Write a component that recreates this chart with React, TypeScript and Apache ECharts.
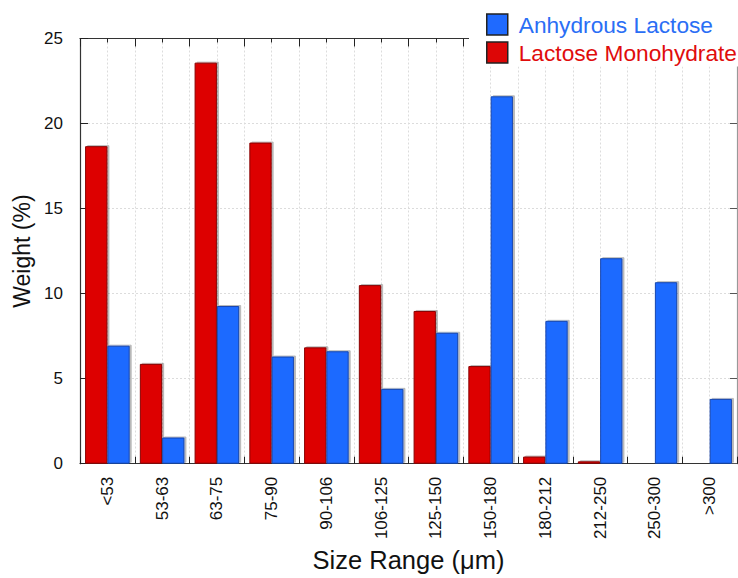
import React, { useEffect, useRef } from "react";
import * as echarts from "echarts";

// Particle size classes (µm) and the weight fraction in each class
const categories = ["<53", "53-63", "63-75", "75-90", "90-106", "106-125", "125-150", "150-180", "180-212", "212-250", "250-300", ">300"];
const monohydrate = [18.67, 5.87, 23.58, 18.88, 6.84, 10.5, 8.98, 5.74, 0.42, 0.14, 0.04, 0];
const anhydrous = [6.94, 1.54, 9.27, 6.3, 6.61, 4.4, 7.7, 21.6, 8.4, 12.08, 10.67, 3.81];

const FONT = "'Liberation Sans', Arial, sans-serif";
const RED = "#dd0606";
const BLUE = "#1f6aff";

export default function App() {
  const ref = useRef<HTMLDivElement>(null);

  useEffect(() => {
    if (!ref.current) return;
    const chart = echarts.init(ref.current, null, { renderer: "svg" });
    const shadow = { shadowColor: "rgba(0,0,0,0.28)", shadowOffsetX: 2, shadowOffsetY: -1, shadowBlur: 0 };
    const dashed = { show: true, lineStyle: { color: "#dcdcdc", type: [2, 2] as any, width: 1 } };

    chart.setOption({
      animation: false,
      backgroundColor: "#fff",
      textStyle: { fontFamily: FONT },
      grid: { left: 80, top: 38.5, right: 1, bottom: 110.5, containLabel: false },
      legend: {
        orient: "vertical",
        left: 481,
        top: 8,
        z: 20,
        itemWidth: 21,
        itemHeight: 21,
        itemGap: 5,
        icon: "rect",
        selectedMode: false,
        itemStyle: { borderColor: "#222", borderWidth: 1.5 },
        textStyle: { fontSize: 22.7, fontFamily: FONT, padding: [0, 0, 0, 6] },
        data: [
          { name: "Anhydrous Lactose", textStyle: { color: "#2a6ef5" } },
          { name: "Lactose Monohydrate", textStyle: { color: "#e00c0c" } },
        ],
      },
      graphic: [
        { type: "rect", z: 10, shape: { x: 469, y: 0, width: 269, height: 66.5 }, style: { fill: "#fff" } },
      ],
      xAxis: [
        {
          type: "category",
          data: categories,
          position: "bottom",
          boundaryGap: true,
          name: "Size Range (\u03bcm)",
          nameLocation: "middle",
          nameGap: 80,
          nameTextStyle: { fontSize: 25.5, color: "#111", fontFamily: FONT },
          axisLine: { show: true, lineStyle: { color: "#333", width: 1.2 } },
          axisTick: { show: true, inside: true, length: 7, lineStyle: { color: "#222" } },
          axisLabel: { rotate: 90, margin: 13, fontSize: 17, color: "#111", fontFamily: FONT },
          splitLine: { show: false },
        },
        {
          type: "value",
          position: "top",
          min: 0,
          max: 12,
          interval: 1,
          axisLine: { show: true, onZero: false, lineStyle: { color: "#333", width: 1.2 } },
          axisTick: { show: true, inside: true, length: 8, lineStyle: { color: "#222" } },
          minorTick: { show: true, splitNumber: 2, length: 4, lineStyle: { color: "#222" } },
          axisLabel: { show: false },
          splitLine: dashed,
          minorSplitLine: dashed,
        },
      ],
      yAxis: [
        {
          type: "value",
          min: 0,
          max: 25,
          interval: 5,
          name: "Weight (%)",
          nameLocation: "middle",
          nameGap: 45,
          nameTextStyle: { fontSize: 23, color: "#111", fontFamily: FONT },
          axisLine: { show: true, lineStyle: { color: "#333", width: 1.2 } },
          axisTick: { show: true, inside: true, length: 8, lineStyle: { color: "#222" } },
          axisLabel: { margin: 17, fontSize: 17, color: "#111", fontFamily: FONT },
          splitLine: dashed,
        },
        {
          type: "value",
          position: "right",
          min: 0,
          max: 25,
          interval: 5,
          axisLine: { show: true, lineStyle: { color: "#999", width: 1.2 } },
          axisTick: { show: true, inside: true, length: 7, lineStyle: { color: "#555" } },
          axisLabel: { show: false },
          splitLine: { show: false },
        },
      ],
      series: [
        {
          name: "Lactose Monohydrate",
          type: "bar",
          data: monohydrate,
          barGap: "0%",
          barCategoryGap: "18.6%",
          itemStyle: { color: RED, borderColor: "#8a0000", borderWidth: 1, ...shadow },
        },
        {
          name: "Anhydrous Lactose",
          type: "bar",
          data: anhydrous,
          barGap: "0%",
          barCategoryGap: "18.6%",
          itemStyle: { color: BLUE, borderColor: "#1446b0", borderWidth: 1, ...shadow },
        },
      ],
    });

    return () => chart.dispose();
  }, []);

  return <div ref={ref} style={{ position: "absolute", left: 0, top: 0, width: 738, height: 578 }} />;
}
